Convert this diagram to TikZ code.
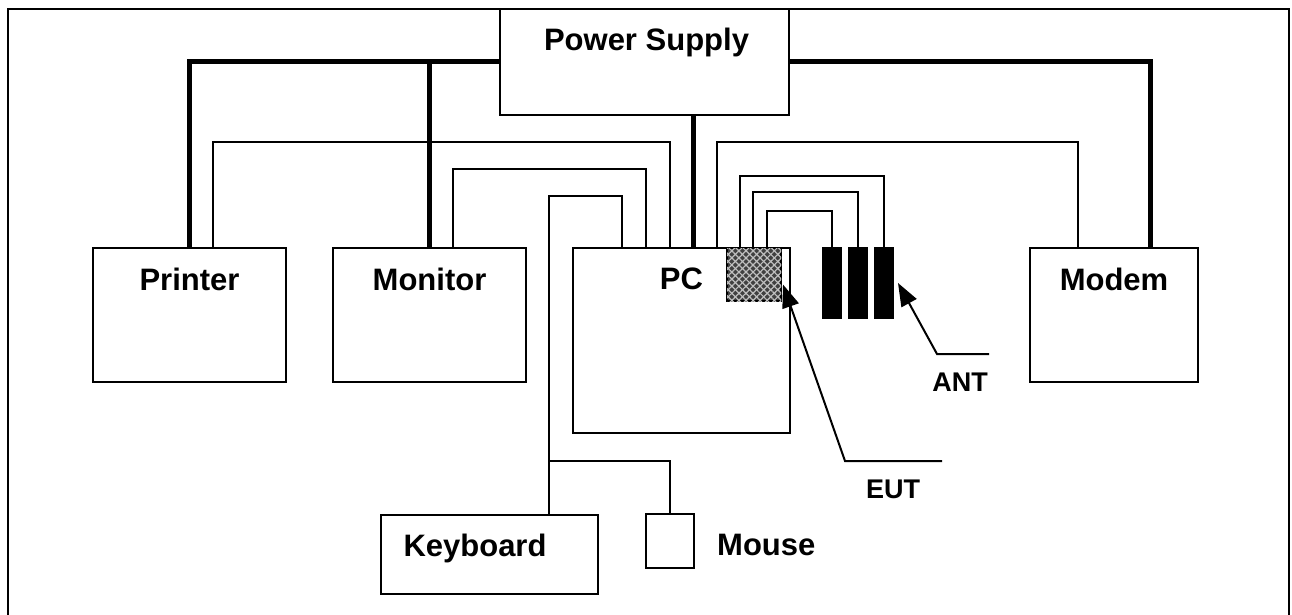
\documentclass[tikz,border=0pt]{standalone}
\usepackage{fontspec}
\setmainfont{Liberation Sans}
\usetikzlibrary{arrows.meta, patterns.meta}

\begin{document}
\begin{tikzpicture}[
    x=1pt, y=-1pt,
    box/.style={draw, line width=2pt, fill=white, inner sep=0pt, outer sep=0pt},
    bar/.style={draw, line width=1.5pt, fill=black, inner sep=0pt, outer sep=0pt, minimum width=18pt, minimum height=70pt},
    lbl/.style={font=\bfseries\fontsize{31}{36}\selectfont, anchor=base, inner sep=0pt},
    tag/.style={font=\bfseries\fontsize{27}{32}\selectfont, anchor=base, inner sep=0pt},
    power/.style={line width=5pt},
    data/.style={line width=2pt},
    pointer/.style={line width=2pt, -{Triangle[length=23pt, width=17pt]}}
  ]
  \useasboundingbox (0,0) rectangle (1292,615);
  \draw[line width=1.5pt] (8,615) |- (1289,9) -- (1289,615);

  \node[box, minimum width=289pt, minimum height=106pt] (psu)      at (644.5,62)    {};
  \node[box, minimum width=193pt, minimum height=134pt] (printer)  at (189.5,315)   {};
  \node[box, minimum width=193pt, minimum height=134pt] (monitor)  at (429.5,315)   {};
  \node[box, minimum width=217pt, minimum height=185pt] (pc)       at (681.5,340.5) {};
  \node[box, minimum width=168pt, minimum height=134pt] (modem)    at (1114,315)    {};
  \node[box, minimum width=217pt, minimum height=79pt]  (keyboard) at (489.5,554.5) {};
  \node[box, minimum width=48pt,  minimum height=54pt]  (mouse)    at (670,541)     {};
  \node[box, minimum width=54pt,  minimum height=53pt, fill=black!75,
        postaction={pattern={Lines[angle=45, distance=5pt, line width=1.2pt]}, pattern color=black!25},
        postaction={pattern={Lines[angle=-45, distance=5pt, line width=1.2pt]}, pattern color=black!25}] (eut) at (754,274.5) {};
  \node[bar] (ant1) at (832,283) {};
  \node[bar] (ant2) at (858,283) {};
  \node[bar] (ant3) at (884,283) {};

  \node[lbl] (psulbl)      at ([xshift=2pt, yshift=-42pt]psu.north)       {Power Supply};
  \node[lbl] (printerlbl)  at ([yshift=-42pt]printer.north)               {Printer};
  \node[lbl] (monitorlbl)  at ([yshift=-42pt]monitor.north)               {Monitor};
  \node[lbl] (pclbl)       at ([yshift=-41pt]pc.north)                    {PC};
  \node[lbl] (modemlbl)    at ([yshift=-42pt]modem.north)                 {Modem};
  \node[lbl] (keyboardlbl) at ([xshift=-14.5pt, yshift=-41pt]keyboard.north) {Keyboard};
  \node[lbl, anchor=base west] (mouselbl) at ([xshift=23pt, yshift=-14pt]mouse.east) {Mouse};
  \node[tag] (eutlbl) at (893,498) {EUT};
  \node[tag] (antlbl) at (960,391) {ANT};

  \draw[power] (printer.north) |- (psu.west);
  \draw[power] (monitor.north) -- (monitor.north |- psu.west);
  \draw[power] (psu.east) -| (1150,0 |- modem.north);
  \draw[power] (693,0 |- psu.south) -- (693,0 |- pc.north);

  \draw[data] (213,0 |- printer.north) -- ++(0,-106) -| (670,0 |- pc.north);
  \draw[data] (453,0 |- monitor.north) -- ++(0,-79) -| (646,0 |- pc.north);
  \draw[data] (549,0 |- keyboard.north) -- ++(0,-319) -| (622,0 |- pc.north);
  \draw[data] (549,461) -| (mouse.north);
  \draw[data] (717,0 |- pc.north) -- ++(0,-106) -| (1078,0 |- modem.north);

  \draw[data] (740,0 |- eut.north) -- ++(0,-72) -| (ant3.north);
  \draw[data] (753,0 |- eut.north) -- ++(0,-56) -| (ant2.north);
  \draw[data] (767,0 |- eut.north) -- ++(0,-37) -| (ant1.north);

  \coordinate (eutend)  at (942,461);
  \coordinate (eutknee) at (845,461);
  \coordinate (antend)  at (989,354);
  \coordinate (antknee) at (937,354);
  \draw[pointer] (eutend) -- (eutknee) -- ([shift={(2,10)}]eut.east);
  \draw[pointer] (antend) -- (antknee) -- ([shift={(5,0)}]ant3.east);
\end{tikzpicture}
\end{document}
